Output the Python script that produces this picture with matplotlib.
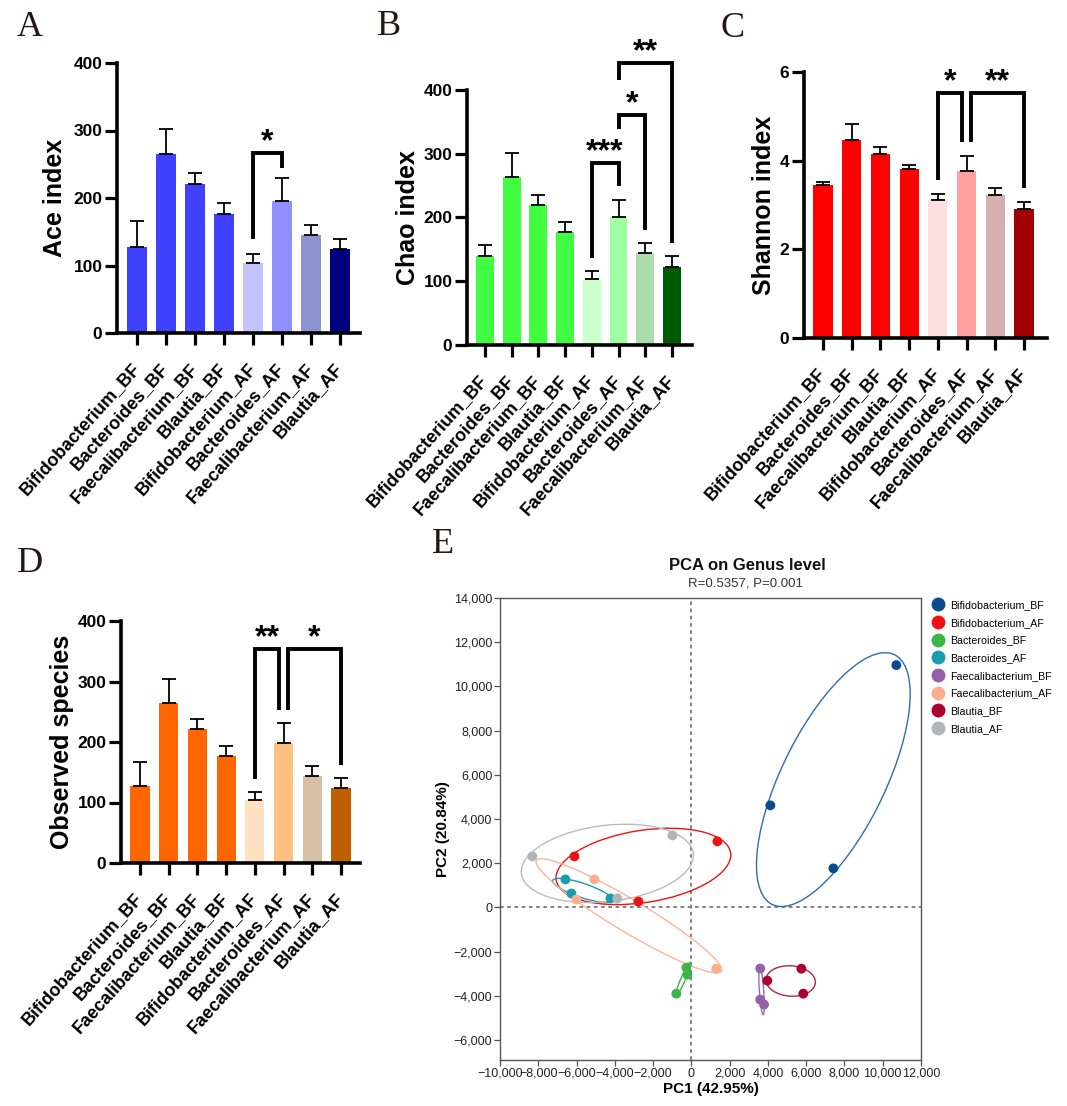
import numpy as np
import matplotlib
matplotlib.use("Agg")
import matplotlib.pyplot as plt
from matplotlib.patches import Ellipse
from matplotlib.lines import Line2D

plt.rcParams['font.family'] = ['Liberation Sans', 'DejaVu Sans']

W, H = 1067, 1106

# ---- bar chart data ----
groups = ["Bifidobacterium_BF", "Bacteroides_BF", "Faecalibacterium_BF", "Blautia_BF",
          "Bifidobacterium_AF", "Bacteroides_AF", "Faecalibacterium_AF", "Blautia_AF"]

ace_mean = [127, 265, 221, 176, 104, 196, 145, 124]
ace_err = [39, 37, 16, 17, 13, 34, 15, 15]
chao_mean = [140, 263, 220, 177, 103, 201, 144, 123]
chao_err = [17, 38, 15, 16, 13, 26, 16, 16]
shannon_mean = [3.45, 4.47, 4.15, 3.81, 3.11, 3.77, 3.23, 2.92]
shannon_err = [0.07, 0.36, 0.16, 0.09, 0.14, 0.34, 0.15, 0.14]
obs_mean = [127, 264, 221, 177, 104, 198, 144, 124]
obs_err = [40, 40, 17, 16, 13, 33, 16, 16]

ace_colors = ['#4040ff'] * 4 + ['#c3c3ff', '#8f8fff', '#8c93cf', '#00007f']
chao_colors = ['#40ff40'] * 4 + ['#ccffcc', '#a0ffa0', '#abdcab', '#005a00']
shannon_colors = ['#ff0000'] * 4 + ['#ffdede', '#ffa0a0', '#d6b0b0', '#a00000']
obs_colors = ['#ff6600'] * 4 + ['#ffe0c0', '#ffc080', '#d8bfa8', '#bf6000']

# significance brackets: (bar i, bar j, label, top, left leg end, right leg end)
ace_sig = [(4, 5, '*', 267, 139, 244)]
chao_sig = [(4, 5, '***', 285, 137, 250),
            (5, 6, '*', 361, 339, 180),
            (5, 7, '**', 442, 416, 160)]
shannon_sig = [(4, 5, '*', 5.52, 3.56, 4.43),
               (5, 7, '**', 5.52, 4.43, 3.38)]
obs_sig = [(4, 5, '**', 354, 139, 253),
           (5, 7, '*', 354, 253, 162)]

# ---- PCA data ----
pca_groups = ["Bifidobacterium_BF", "Bifidobacterium_AF", "Bacteroides_BF", "Bacteroides_AF",
              "Faecalibacterium_BF", "Faecalibacterium_AF", "Blautia_BF", "Blautia_AF"]
pca_colors = ['#0b4a8e', '#ee1111', '#3cb446', '#1a9cb0', '#9460a8', '#fdae90', '#a8002f', '#b0b6b8']
ell_colors = ['#2f6cb0', '#ee1111', '#3cb446', '#1a9cb0', '#9b6ab0', '#fbb49a', '#b0254a', '#b8bcbd']
pc1 = [[10710, 4127, 7420], [-6110, 1360, -2770], [-260, -210, -785], [-6580, -6270, -4230],
       [3600, 3600, 3800], [-5070, -6010, 1300], [5750, 3970, 5850], [-8310, -990, -3870]]
pc2 = [[10965, 4620, 1770], [2310, 2990, 270], [-2720, -3040, -3900], [1270, 634, 408],
       [-2760, -4170, -4390], [1270, 360, -2770], [-2770, -3310, -3900], [2310, 3260, 408]]

fig = plt.figure(figsize=(W / 100, H / 100), dpi=100)


def px_axes(l, t, r, b):
    return fig.add_axes([l / W, 1 - b / H, (r - l) / W, (b - t) / H])


def bar_panel(box, means, errs, colors, ymax, ystep, ylabel, xlim, label_x, sigs):
    ax = px_axes(*box)
    x = np.arange(len(means))
    ax.bar(x, means, width=0.67, color=colors, zorder=2)
    ax.errorbar(x, means, yerr=[np.zeros(len(errs)), errs], fmt='none', ecolor='black',
                elinewidth=1.3, capsize=5, capthick=1.3, zorder=3)
    ax.set_xlim(*xlim)
    ax.set_ylim(0, ymax)
    ax.set_yticks(np.arange(0, ymax + ystep / 2, ystep))
    ax.set_xticks(x)
    ax.set_xticklabels(groups, rotation=48, ha='right', va='center', rotation_mode='anchor',
                       fontsize=13, fontweight='bold')
    for t in ax.get_yticklabels():
        t.set_fontweight('bold')
        t.set_fontsize(12.5)
    for s in ['top', 'right']:
        ax.spines[s].set_visible(False)
    for s in ['left', 'bottom']:
        ax.spines[s].set_linewidth(2.6)
    ax.tick_params(direction='out', length=8.5, width=2.3, pad=2)
    ax.tick_params(axis='x', pad=15)
    ax.set_ylabel(ylabel, fontsize=18, fontweight='bold')
    ax.yaxis.set_label_coords(label_x, 0.5)
    for n, (i, j, lab, top, lo1, lo2) in enumerate(sigs):
        xi, xj = i, j
        # shift shared legs when two brackets sit at the same height
        for m, o in enumerate(sigs):
            if m != n and o[3] == top:
                if o[0] == j:
                    xj = j - 0.15
                if o[1] == i:
                    xi = i + 0.15
        ax.plot([xi, xi, xj, xj], [lo1, top, top, lo2], color='black', lw=2.8,
                solid_joinstyle='miter', solid_capstyle='butt', clip_on=False, zorder=4)
        ax.annotate(lab, xy=((xi + xj) / 2, top), xytext=(0, -3), textcoords='offset points',
                    ha='center', va='bottom', fontsize=23, fontweight='bold', annotation_clip=False)
    return ax


bar_panel((117, 63, 360, 333), ace_mean, ace_err, ace_colors, 400, 100, 'Ace index',
          (-0.69, 7.69), -0.205, ace_sig)
bar_panel((467, 90, 692, 345), chao_mean, chao_err, chao_colors, 400, 100, 'Chao index',
          (-0.67, 7.75), -0.21, chao_sig)
bar_panel((804, 72, 1047, 338), shannon_mean, shannon_err, shannon_colors, 6, 2, 'Shannon index',
          (-0.66, 7.8), -0.115, shannon_sig)
bar_panel((121, 621, 360, 863), obs_mean, obs_err, obs_colors, 400, 100, 'Observed species',
          (-0.66, 7.66), -0.195, obs_sig)

# ---- PCA panel ----
ax = px_axes(500, 598, 921, 1060)
ax.axvline(0, color='#777777', lw=1.3, ls=(0, (2, 2)), zorder=1)
ax.axhline(0, color='#777777', lw=1.3, ls=(0, (2, 2)), zorder=1)
for name, c, ec, xs, ys in zip(pca_groups, pca_colors, ell_colors, pc1, pc2):
    xs = np.array(xs, float)
    ys = np.array(ys, float)
    cov = np.cov(xs, ys)
    vals, vecs = np.linalg.eigh(cov)
    order = vals.argsort()[::-1]
    vals, vecs = vals[order], vecs[:, order]
    ang = np.degrees(np.arctan2(vecs[1, 0], vecs[0, 0]))
    k = 1.22
    w, h = 2 * k * np.sqrt(max(vals[0], 0)), 2 * k * np.sqrt(max(vals[1], 0))
    ax.add_patch(Ellipse((xs.mean(), ys.mean()), w, h, angle=ang, fill=False,
                         edgecolor=ec, lw=1.0, zorder=2))
    ax.scatter(xs, ys, s=50, color=c, edgecolors='none', zorder=3)
ax.set_xlim(-10000, 12000)
ax.set_ylim(-6900, 14000)
xt = np.arange(-10000, 12001, 2000)
yt = np.arange(-6000, 14001, 2000)
ax.set_xticks(xt)
ax.set_xticklabels([f"{v:,}".replace('-', '\u2212') for v in xt])
ax.set_yticks(yt)
ax.set_yticklabels([f"{v:,}".replace('-', '\u2212') for v in yt])
ax.tick_params(direction='out', length=4, width=0.9, color='#555555', labelsize=9,
               labelcolor='#222222', pad=1.5)
for s in ax.spines.values():
    s.set_color('#555555')
    s.set_linewidth(1.0)
ax.set_xlabel('PC1 (42.95%)', fontsize=11, fontweight='bold', labelpad=2)
ax.set_ylabel('PC2 (20.84%)', fontsize=11, fontweight='bold', labelpad=3)
fig.text(747 / W, 1 - 565 / H, 'PCA on Genus level', ha='center', va='center',
         fontsize=12, fontweight='bold', color='#111111')
fig.text(745 / W, 1 - 583 / H, 'R=0.5357, P=0.001', ha='center', va='center',
         fontsize=9.5, color='#333333')
handles = [Line2D([], [], marker='o', ls='none', markersize=10, color=c, markeredgewidth=0)
           for c in pca_colors]
fig.legend(handles, pca_groups, loc='upper left', bbox_to_anchor=(933 / W, 1 - 600 / H),
           bbox_transform=fig.transFigure, frameon=False, fontsize=7.7, borderpad=0,
           borderaxespad=0, handlelength=1.0, handletextpad=0.6, labelspacing=0.72)

# ---- panel letters ----
for lab, xx, yy in [('A', 17, 36), ('B', 377, 35), ('C', 720, 37), ('D', 17, 572), ('E', 432, 553)]:
    fig.text(xx / W, 1 - yy / H, lab, fontsize=26, family='Liberation Serif', color='#231815',
             ha='left', va='baseline')

fig.savefig('out.png', dpi=100)
